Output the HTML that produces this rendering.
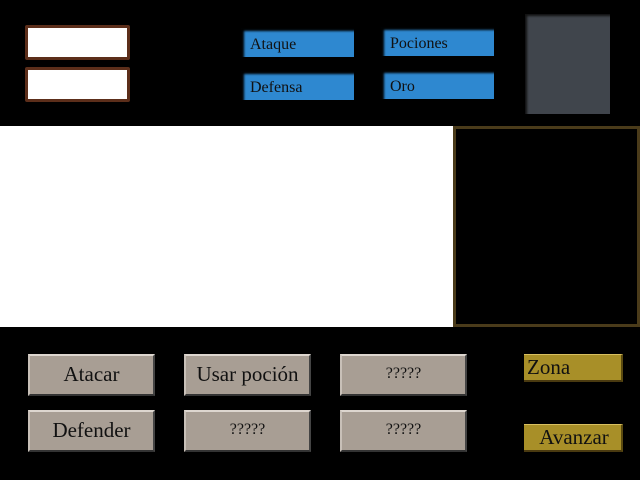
<!DOCTYPE html>
<html><head><style>
body{margin:0;width:640px;height:480px;background:#000;position:relative;overflow:hidden;font-family:"Liberation Serif",serif}
div{position:absolute;box-sizing:border-box}
.w{background:#fff;border:3px solid #5c2e1a;border-radius:2px;left:25px;width:105px;height:35px}
.b{background:#2e88d0;color:#111;font-size:16px;padding:8px 0 0 9px;height:29px;width:113px;box-shadow:inset 3px 3px 2px #000}
.g{background:#a89e94;width:127px;height:42px;color:#111;font-size:21px;text-align:center;line-height:36px;border-top:2px solid #ddd6cf;border-left:2px solid #c8c0b8;border-right:2px solid #444;border-bottom:2px solid #333}
.q{font-size:16px}
.y{background:#a88f28;left:524px;width:99px;height:28px;font-size:21px;line-height:24px;padding-left:3px;color:#111;border-top:1px solid #d8c060;border-right:2px solid #5a4a10;border-bottom:2px solid #4a3a10}
</style></head><body>
<div class="w" style="top:25px"></div>
<div class="w" style="top:67px"></div>
<div class="b" style="left:241px;top:28px">Ataque</div>
<div class="b" style="left:241px;top:71px">Defensa</div>
<div class="b" style="left:381px;top:27px">Pociones</div>
<div class="b" style="left:381px;top:70px">Oro</div>
<div style="left:525px;top:14px;width:85px;height:100px;background:#40454c;box-shadow:inset 2px 2px 2px #111"></div>
<div style="left:0;top:126px;width:453px;height:201px;background:#fff"></div>
<div style="left:453px;top:126px;width:187px;height:201px;background:#000;border:3px solid #4a3b1a"></div>
<div class="g" style="left:28px;top:354px">Atacar</div>
<div class="g" style="left:184px;top:354px">Usar poción</div>
<div class="g q" style="left:340px;top:354px">?????</div>
<div class="g" style="left:28px;top:410px">Defender</div>
<div class="g q" style="left:184px;top:410px">?????</div>
<div class="g q" style="left:340px;top:410px">?????</div>
<div class="y" style="top:354px">Zona</div>
<div class="y" style="top:424px;text-align:center">Avanzar</div>
</body></html>
